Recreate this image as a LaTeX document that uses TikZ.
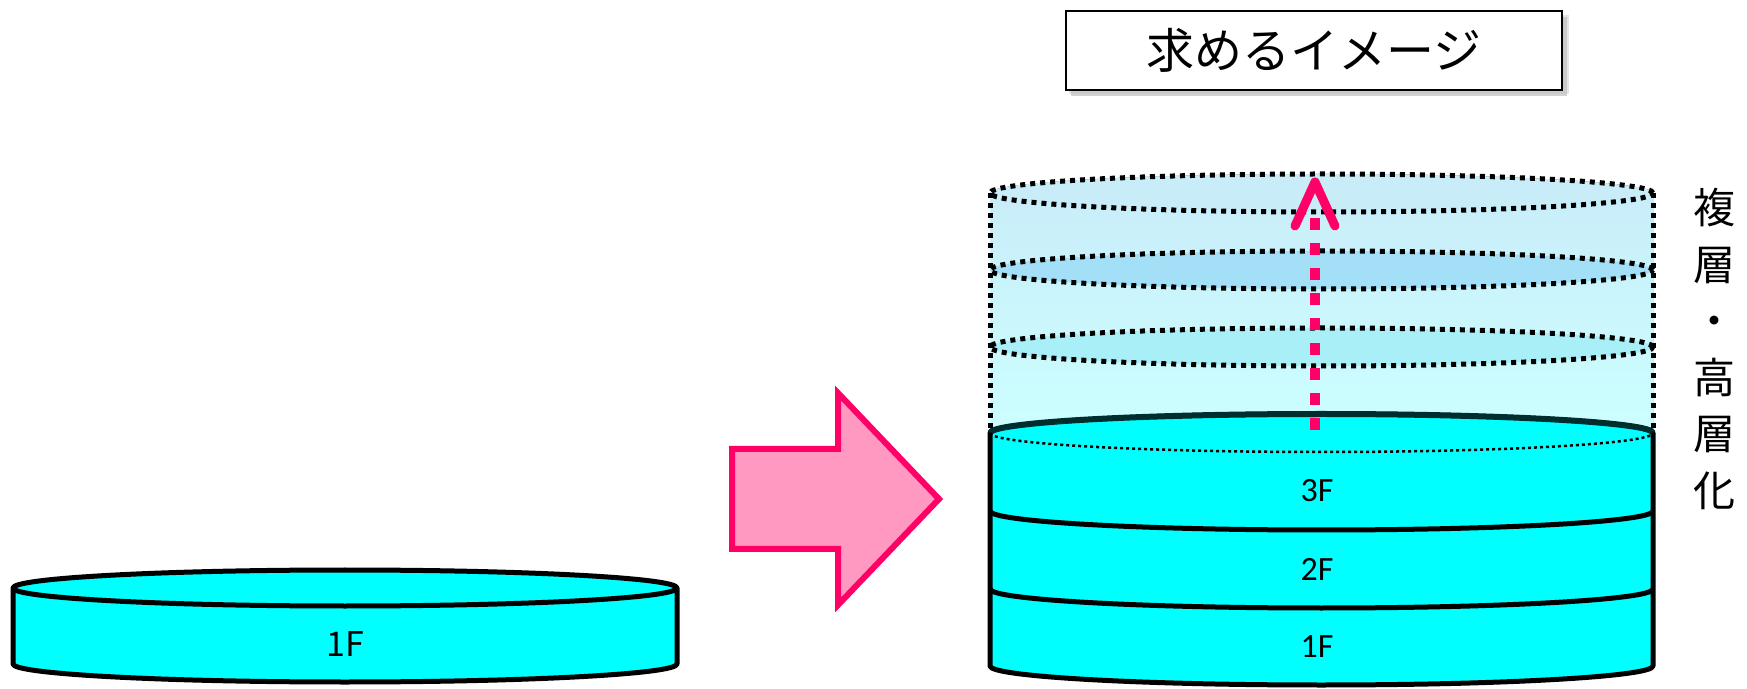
\documentclass[tikz,border=0pt]{standalone}
\usepackage{fontspec}
\usetikzlibrary{calc}
\newfontfamily\jpfont{Noto Sans CJK JP}
\newfontfamily\carlfont{Carlito}
\definecolor{cyanfill}{HTML}{00FFFF}
\definecolor{pinkfill}{HTML}{FF99C2}
\definecolor{pinkline}{HTML}{FF0066}
\definecolor{uptop}{HTML}{C9ECF9}
\definecolor{upbot}{HTML}{CCFFFF}
\definecolor{ellA}{HTML}{A3E0F8}
\definecolor{ellB}{HTML}{A8EFF8}
\definecolor{darkedge}{HTML}{002E2E}
\begin{document}
\begin{tikzpicture}[x=1pt,y=1pt,
  solidline/.style={draw=black,line width=5pt,line join=round},
  dotline/.style={draw=black,line width=5pt,dash pattern=on 5pt off 5pt},
  floorlabel/.style={font=\carlfont\fontsize{34}{40}\selectfont,inner sep=0pt},
  pinkdash/.style={draw=pinkline,line width=10pt,dash pattern=on 12pt off 13pt},
  pinkhead/.style={draw=pinkline,line width=9pt,line cap=round,line join=round},
  titlebox/.style={draw=black,line width=1.5pt,fill=white,minimum width=496pt,minimum height=79pt,inner sep=0pt,font=\jpfont\fontsize{48}{54}\selectfont},
  sidetext/.style={font=\jpfont\fontsize{42}{56.5}\selectfont,align=center,inner sep=0pt}
]
\useasboundingbox (0,0) rectangle (1747,688);

% ---------- left single floor disk ----------
\path[solidline,fill=cyanfill] (13,100) -- (13,24) arc[start angle=180,end angle=360,x radius=332,y radius=18] -- (677,100) arc[start angle=0,end angle=180,x radius=332,y radius=18] -- cycle;
\path[solidline] (13,100) arc[start angle=180,end angle=360,x radius=332,y radius=18];
\node[inner sep=0pt,font=\jpfont\fontsize{34}{40}\selectfont] (left1F) at (345,44) {1F};

% ---------- big pink arrow ----------
\path[draw=pinkline,fill=pinkfill,line width=6pt,line join=miter] (732,239) -- (838,239) -- (838,295) -- (939,189) -- (838,83) -- (838,139) -- (732,139) -- cycle;
\coordinate (bigarrow) at (835,189);

% ---------- title box ----------
\fill[gray!70,opacity=0.5] (1071,592) rectangle (1567,671);
\fill[gray!50,opacity=0.4] (1069,594) rectangle (1569,673);
\node[titlebox] (title) at (1314,637.5) {求めるイメージ};

% ---------- upper (planned) dotted floors ----------
\fill[top color=uptop,bottom color=upbot] (990,255) -- (990,495) arc[start angle=180,end angle=0,x radius=331.5,y radius=19] -- (1653,255) -- cycle;
\fill[uptop] (1321.5,495) ellipse[x radius=331.5,y radius=19];
\fill[ellA] (1321.5,418) ellipse[x radius=331.5,y radius=19];
\fill[ellB] (1321.5,341) ellipse[x radius=331.5,y radius=19];

% ---------- solid 3-floor cylinder ----------
\path[solidline,fill=cyanfill] (990,255) -- (990,22) arc[start angle=180,end angle=360,x radius=331.5,y radius=19] -- (1653,255) arc[start angle=0,end angle=180,x radius=331.5,y radius=19] -- cycle;
\path[draw=darkedge,line width=6pt] (990,255) arc[start angle=180,end angle=0,x radius=331.5,y radius=19];
\path[solidline] (990,177) arc[start angle=180,end angle=360,x radius=331.5,y radius=19];
\path[solidline] (990,99) arc[start angle=180,end angle=360,x radius=331.5,y radius=19];
\node[floorlabel] (f3) at (1317,197) {3F};
\node[floorlabel] (f2) at (1317,119) {2F};
\node[floorlabel] (f1) at (1317,41) {1F};

% dotted outlines
\path[dotline] (1321.5,495) ellipse[x radius=331.5,y radius=19];
\path[dotline] (1321.5,418) ellipse[x radius=331.5,y radius=19];
\path[dotline] (1321.5,341) ellipse[x radius=331.5,y radius=19];
\path[dotline] (990,495) -- (990,255);
\path[dotline] (1653,495) -- (1653,255);
\path[draw=black,line width=2.5pt,dash pattern=on 3pt off 3pt] (990,255) arc[start angle=180,end angle=360,x radius=331.5,y radius=19];

% ---------- pink dashed upward arrow ----------
\coordinate (upS) at (1315,258);
\coordinate (upE) at (1315,506);
\draw[pinkdash] (upS) -- ($(upE)+(0,-30)$);
\draw[pinkhead] ($(upE)+(-20,-44)$) -- (upE) -- ($(upE)+(20,-44)$);

% ---------- side text ----------
\node[sidetext] (side) at (1714,339) {複\\層\\・\\高\\層\\化};
\end{tikzpicture}
\end{document}
